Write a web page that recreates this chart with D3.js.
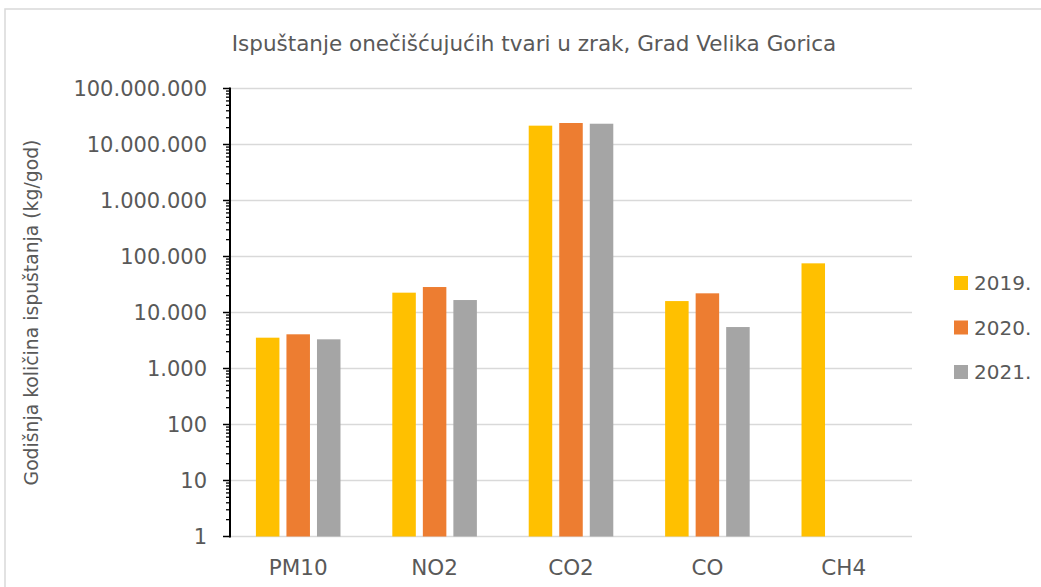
<!DOCTYPE html>
<html>
<head>
<meta charset="utf-8">
<script src="https://cdn.jsdelivr.net/npm/d3@7"></script>
<style>
  body { margin: 0; background: #fff; }
  text { font-family: "DejaVu Sans", Verdana, sans-serif; fill: #595959; }
</style>
</head>
<body>
<div id="chart"></div>
<script>
const categories = ["PM10", "NO2", "CO2", "CO", "CH4"];
const years = ["2019.", "2020.", "2021."];
const values2019 = [3550, 22600, 21700000, 16000, 75500];
const values2020 = [4080, 28500, 24200000, 22000, null];
const values2021 = [3320, 16700, 23500000, 5500, null];
const yTicks = [1, 10, 100, 1000, 10000, 100000, 1000000, 10000000, 100000000];

const colors = ["#FFC000", "#ED7D31", "#A5A5A5"];
const width = 1041, height = 587;
const plot = { left: 230, right: 912, top: 88.5, bottom: 536.5 };

const series = [values2019, values2020, values2021];

const hr = d3.formatLocale({ decimal: ",", thousands: ".", grouping: [3], currency: ["", ""] });
const fmt = hr.format(",d");

const svg = d3.select("#chart").append("svg")
  .attr("width", width)
  .attr("height", height);

// chart frame
svg.append("rect")
  .attr("x", 5).attr("y", 9)
  .attr("width", width + 10).attr("height", height + 10)
  .attr("fill", "#fff")
  .attr("stroke", "#d9d9d9")
  .attr("stroke-width", 1.5);

const x0 = d3.scaleBand()
  .domain(categories)
  .range([plot.left, plot.right])
  .paddingInner(0.38)
  .paddingOuter(0.19);

const x1 = d3.scaleBand()
  .domain(years)
  .range([0, x0.bandwidth()])
  .paddingInner(0.23);

const y = d3.scaleLog()
  .domain([1, 1e8])
  .range([plot.bottom, plot.top]);

// gridlines
svg.append("g")
  .selectAll("line")
  .data(yTicks)
  .enter()
  .append("line")
  .attr("x1", plot.left)
  .attr("x2", plot.right)
  .attr("y1", d => y(d))
  .attr("y2", d => y(d))
  .attr("stroke", "#d9d9d9")
  .attr("stroke-width", 1.5);

// bars
categories.forEach((cat, ci) => {
  series.forEach((vals, si) => {
    const v = vals[ci];
    if (v == null) return;
    svg.append("rect")
      .attr("x", x0(cat) + x1(years[si]))
      .attr("width", x1.bandwidth())
      .attr("y", y(v))
      .attr("height", y(1) - y(v))
      .attr("fill", colors[si]);
  });
});

// y axis with minor ticks
const minor = y.ticks().filter(d => yTicks.indexOf(d) < 0);
const axis = svg.append("g");
axis.selectAll(".minor")
  .data(minor)
  .enter()
  .append("line")
  .attr("class", "minor")
  .attr("x1", plot.left - 4)
  .attr("x2", plot.left)
  .attr("y1", d => y(d))
  .attr("y2", d => y(d))
  .attr("stroke", "#000")
  .attr("stroke-width", 1.3);
axis.selectAll(".major")
  .data(yTicks)
  .enter()
  .append("line")
  .attr("class", "major")
  .attr("x1", plot.left - 7)
  .attr("x2", plot.left)
  .attr("y1", d => y(d))
  .attr("y2", d => y(d))
  .attr("stroke", "#000")
  .attr("stroke-width", 1.5);
axis.append("line")
  .attr("x1", plot.left).attr("x2", plot.left)
  .attr("y1", plot.top - 1).attr("y2", plot.bottom + 1)
  .attr("stroke", "#000")
  .attr("stroke-width", 2);

svg.append("g")
  .selectAll("text")
  .data(yTicks)
  .enter()
  .append("text")
  .attr("x", 207)
  .attr("y", d => y(d))
  .attr("dy", "0.36em")
  .attr("text-anchor", "end")
  .style("font-size", "21px")
  .text(d => fmt(d));

// category labels
svg.append("g")
  .selectAll("text")
  .data(categories)
  .enter()
  .append("text")
  .attr("x", d => x0(d) + x0.bandwidth() / 2)
  .attr("y", 575)
  .attr("text-anchor", "middle")
  .style("font-size", "21.5px")
  .text(d => d);

// title
svg.append("text")
  .attr("x", 534)
  .attr("y", 51)
  .attr("text-anchor", "middle")
  .style("font-size", "21.5px")
  .text("Ispuštanje onečišćujućih tvari u zrak, Grad Velika Gorica");

// y label
svg.append("text")
  .attr("transform", "translate(38," + (plot.top + plot.bottom) / 2 + ") rotate(-90)")
  .attr("text-anchor", "middle")
  .style("font-size", "18.8px")
  .text("Godišnja količina ispuštanja (kg/god)");

// legend
const legend = svg.append("g")
  .selectAll("g")
  .data(years)
  .enter()
  .append("g")
  .attr("transform", (d, i) => "translate(954," + (276 + i * 44.5) + ")");
legend.append("rect")
  .attr("width", 14).attr("height", 14)
  .attr("fill", (d, i) => colors[i]);
legend.append("text")
  .attr("x", 20)
  .attr("y", 14)
  .style("font-size", "20px")
  .text(d => d);
</script>
</body>
</html>
